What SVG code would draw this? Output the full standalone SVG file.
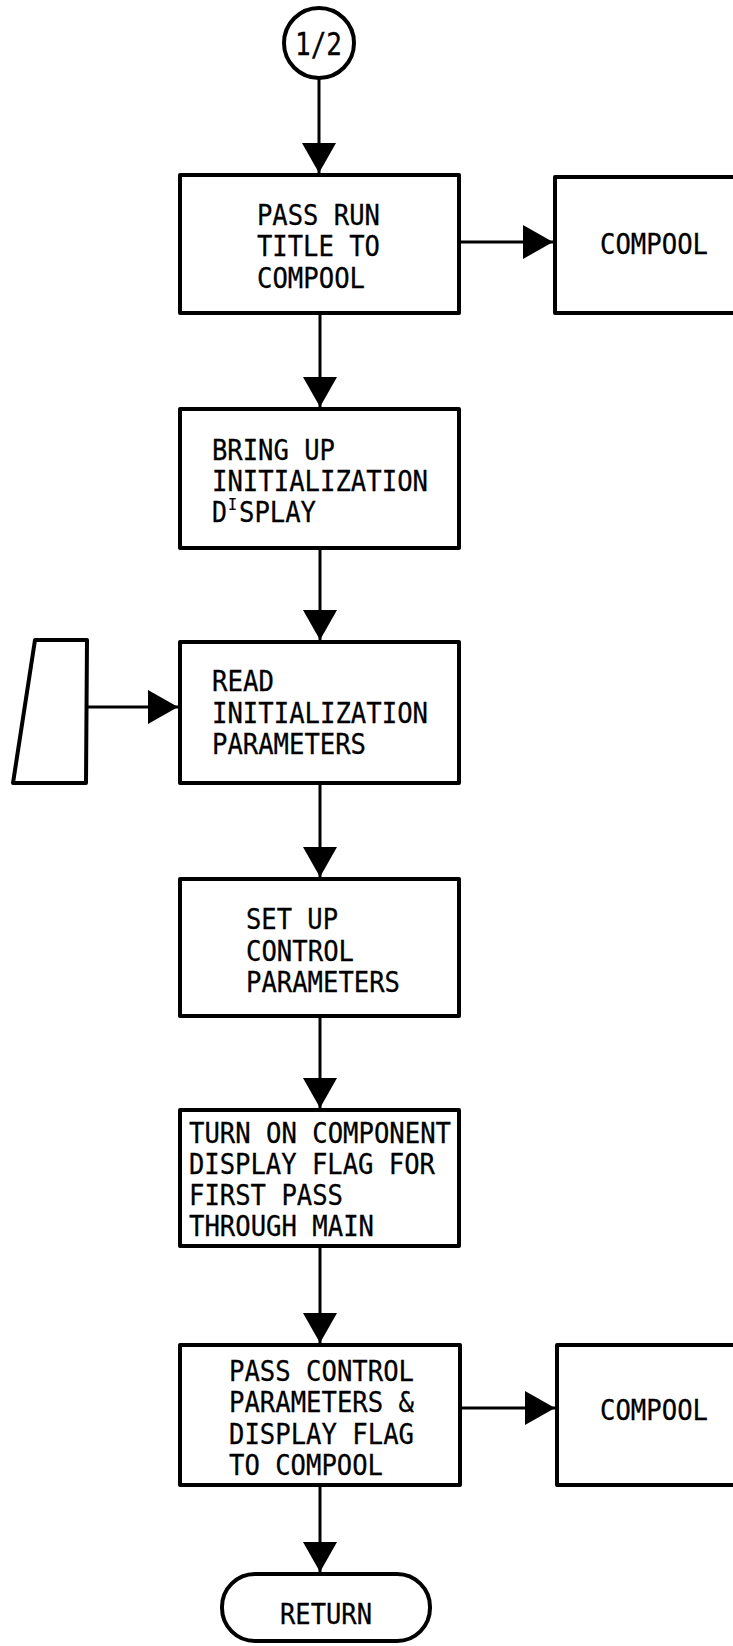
<svg xmlns="http://www.w3.org/2000/svg" width="733" height="1646" viewBox="0 0 733 1646">
<style>
.box{fill:#fff;stroke:#000;stroke-width:4;stroke-linejoin:round}
.ln{fill:none;stroke:#000;stroke-width:3}
.t{font-family:"DejaVu Sans Mono","Liberation Mono",monospace;font-size:29px;fill:#000;stroke:#000;stroke-width:0.3}
</style>
<defs>
<marker id="ah" viewBox="0 0 30 34" refX="30" refY="17" markerWidth="30" markerHeight="34" markerUnits="userSpaceOnUse" orient="auto">
<path d="M0,0 L30,17 L0,34 Z" fill="#000"/>
</marker>
</defs>
<rect width="733" height="1646" fill="#fff"/>
<g id="connectors">
<line class="ln" x1="319" y1="78" x2="319" y2="173" marker-end="url(#ah)"/>
<line class="ln" x1="320" y1="313" x2="320" y2="407" marker-end="url(#ah)"/>
<line class="ln" x1="320" y1="548" x2="320" y2="640" marker-end="url(#ah)"/>
<line class="ln" x1="320" y1="783" x2="320" y2="877" marker-end="url(#ah)"/>
<line class="ln" x1="320" y1="1016" x2="320" y2="1108" marker-end="url(#ah)"/>
<line class="ln" x1="320" y1="1246" x2="320" y2="1343" marker-end="url(#ah)"/>
<line class="ln" x1="320" y1="1485" x2="320" y2="1572" marker-end="url(#ah)"/>
<line class="ln" x1="459" y1="242" x2="553" y2="242" marker-end="url(#ah)"/>
<line class="ln" x1="459" y1="1408" x2="555" y2="1408" marker-end="url(#ah)"/>
<line class="ln" x1="87" y1="707" x2="178" y2="707" marker-end="url(#ah)"/>
</g>
<g id="start">
<circle class="box" cx="319" cy="43" r="35"/>
<text class="t" x="295" y="55" style="font-size:32px" textLength="47" lengthAdjust="spacingAndGlyphs">1/2</text>
</g>
<g id="pass-run-title">
<rect class="box" x="180" y="175" width="279" height="138"/>
<text class="t" x="257" y="225" textLength="123" lengthAdjust="spacingAndGlyphs">PASS RUN</text>
<text class="t" x="257" y="256" textLength="123" lengthAdjust="spacingAndGlyphs">TITLE TO</text>
<text class="t" x="257" y="288" textLength="108" lengthAdjust="spacingAndGlyphs">COMPOOL</text>
</g>
<g id="compool-1">
<path class="box" d="M733,177 H555 V313 H733"/>
<text class="t" x="600" y="254" textLength="108" lengthAdjust="spacingAndGlyphs">COMPOOL</text>
</g>
<g id="bring-up-display">
<rect class="box" x="180" y="409" width="279" height="139"/>
<text class="t" x="212" y="460" textLength="123" lengthAdjust="spacingAndGlyphs">BRING UP</text>
<text class="t" x="212" y="491" textLength="216" lengthAdjust="spacingAndGlyphs">INITIALIZATION</text>
<text class="t" x="212" y="522" textLength="15" lengthAdjust="spacingAndGlyphs">D</text>
<text class="t" x="228" y="510" style="font-size:15px;stroke-width:0.2" textLength="9" lengthAdjust="spacingAndGlyphs">I</text>
<text class="t" x="239" y="522" textLength="77" lengthAdjust="spacingAndGlyphs">SPLAY</text>
</g>
<g id="read-params">
<rect class="box" x="180" y="642" width="279" height="141"/>
<text class="t" x="212" y="691" textLength="62" lengthAdjust="spacingAndGlyphs">READ</text>
<text class="t" x="212" y="723" textLength="216" lengthAdjust="spacingAndGlyphs">INITIALIZATION</text>
<text class="t" x="212" y="754" textLength="154" lengthAdjust="spacingAndGlyphs">PARAMETERS</text>
</g>
<g id="input-card">
<polygon class="box" points="35,640 87,640 86,783 13,783"/>
</g>
<g id="set-up-control">
<rect class="box" x="180" y="879" width="279" height="137"/>
<text class="t" x="246" y="929" textLength="92" lengthAdjust="spacingAndGlyphs">SET UP</text>
<text class="t" x="246" y="961" textLength="108" lengthAdjust="spacingAndGlyphs">CONTROL</text>
<text class="t" x="246" y="992" textLength="154" lengthAdjust="spacingAndGlyphs">PARAMETERS</text>
</g>
<g id="turn-on-flag">
<rect class="box" x="180" y="1110" width="279" height="136"/>
<text class="t" x="189" y="1143" textLength="262" lengthAdjust="spacingAndGlyphs">TURN ON COMPONENT</text>
<text class="t" x="189" y="1174" textLength="246" lengthAdjust="spacingAndGlyphs">DISPLAY FLAG FOR</text>
<text class="t" x="189" y="1205" textLength="154" lengthAdjust="spacingAndGlyphs">FIRST PASS</text>
<text class="t" x="189" y="1236" textLength="185" lengthAdjust="spacingAndGlyphs">THROUGH MAIN</text>
</g>
<g id="pass-control">
<rect class="box" x="180" y="1345" width="280" height="140"/>
<text class="t" x="229" y="1381" textLength="185" lengthAdjust="spacingAndGlyphs">PASS CONTROL</text>
<text class="t" x="229" y="1412" textLength="185" lengthAdjust="spacingAndGlyphs">PARAMETERS &amp;</text>
<text class="t" x="229" y="1444" textLength="185" lengthAdjust="spacingAndGlyphs">DISPLAY FLAG</text>
<text class="t" x="229" y="1475" textLength="154" lengthAdjust="spacingAndGlyphs">TO COMPOOL</text>
</g>
<g id="compool-2">
<path class="box" d="M733,1345 H557 V1485 H733"/>
<text class="t" x="600" y="1420" textLength="108" lengthAdjust="spacingAndGlyphs">COMPOOL</text>
</g>
<g id="return">
<rect class="box" x="222" y="1574" width="208" height="67" rx="33" ry="33"/>
<text class="t" x="280" y="1624" textLength="92" lengthAdjust="spacingAndGlyphs">RETURN</text>
</g>
</svg>
